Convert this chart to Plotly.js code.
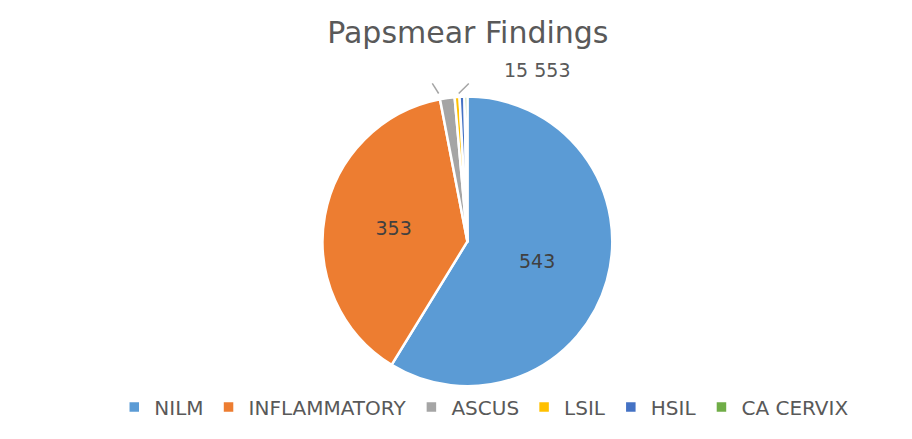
<!DOCTYPE html>
<html><head><meta charset="utf-8">
<script src="https://cdn.plot.ly/plotly-3.0.1.min.js"></script>
<style>html,body{margin:0;padding:0;background:#fff}#c{width:912px;height:439px}</style>
</head><body><div id="c"></div>
<script>
const categories = ["NILM","INFLAMMATORY","ASCUS","LSIL","HSIL","CA CERVIX"];
const values = [543,353,15,5,5,3];
const colors = ["#5B9BD5","#ED7D31","#A5A5A5","#FFC000","#4472C4","#70AD47"];
const insideCount = 2; // first two slices carry their labels inside

const FONT = "DejaVu Sans, sans-serif";
const sliceText = values.map((v, i) => i < insideCount ? String(v) : "");
const textPos = values.map((v, i) => i < insideCount ? "inside" : "none");
// small-slice values shown together above the pie, as in the reference
const smallLabel = values[2] + " " + values.slice(3).join("");

const trace = {
  type: "pie",
  labels: categories,
  values: values,
  text: sliceText,
  sort: false,
  direction: "clockwise",
  rotation: 0,
  marker: {colors: colors, line: {color: "#ffffff", width: 2.5}},
  textinfo: "text",
  textposition: textPos,
  insidetextorientation: "horizontal",
  textfont: {family: FONT, size: 19, color: "#404040"},
  automargin: false,
  domain: {x: [0.025, 1], y: [0.12, 0.78]},
  hoverinfo: "label+value"
};

const layout = {
  width: 912, height: 439,
  margin: {l: 0, r: 0, t: 0, b: 0},
  paper_bgcolor: "#ffffff",
  title: {text: "Papsmear Findings", x: 0.513, xanchor: "center", y: 0.927, yanchor: "middle",
          font: {family: FONT, size: 30, color: "#595959"}},
  showlegend: true,
  legend: {orientation: "h", x: 0.531, xanchor: "center", y: 0.073, yanchor: "middle",
           font: {family: FONT, size: 20, color: "#595959"},
           traceorder: "normal", itemwidth: 30},
  annotations: [{
    text: smallLabel, xref: "paper", yref: "paper", x: 0.589, y: 0.84,
    xanchor: "center", yanchor: "middle", showarrow: false,
    font: {family: FONT, size: 19, color: "#595959"}
  }],
  shapes: [
    {type: "line", xref: "paper", yref: "paper", x0: 0.481, y0: 0.787, x1: 0.474, y1: 0.81,
     line: {color: "#A5A5A5", width: 1.5}},
    {type: "line", xref: "paper", yref: "paper", x0: 0.503, y0: 0.787, x1: 0.514, y1: 0.81,
     line: {color: "#A5A5A5", width: 1.5}}
  ]
};

Plotly.newPlot("c", [trace], layout, {displayModeBar: false, staticPlot: true});
</script></body></html>
